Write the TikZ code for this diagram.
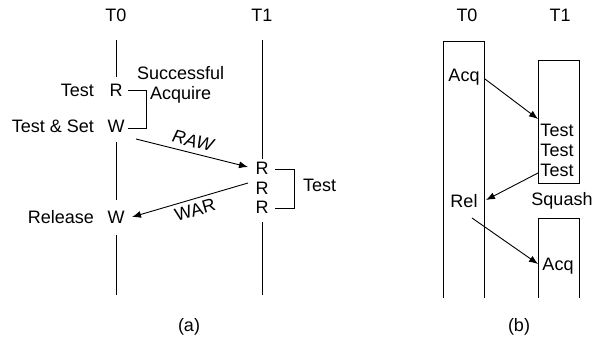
\documentclass[tikz,border=0pt]{standalone}
\usepackage{fontspec}
\setmainfont{Liberation Sans}
\usetikzlibrary{arrows.meta}
\begin{document}
\begin{tikzpicture}[x=1pt,y=-1pt,
  every node/.style={inner sep=0pt,font=\fontsize{18}{21}\selectfont},
  ln/.style={line width=0.9pt},
  arr/.style={line width=0.9pt,-{Latex[length=9pt,width=7pt]}}]
\useasboundingbox (0,0) rectangle (592,341);
% ---------- (a) ----------
\node (t0a) at (116,15) {T0};
\node (t1a) at (262,15) {T1};
\node (R0) at (116,90) {R};
\node (W0) at (116,126) {W};
\node (W1) at (116,217) {W};
\node[anchor=east] (lt) at (94,90) {Test};
\node[anchor=east] (lts) at (94,126) {Test \& Set};
\node[anchor=east] (lrel) at (94,217) {Release};
\node[anchor=west] (succ) at (137,73) {Successful};
\node[anchor=west] (acq) at (150,95) {Acquire};
\node (r1) at (262,168) {R};
\node (r2) at (262,188) {R};
\node (r3) at (262,207) {R};
\node[anchor=west] (ltest) at (303,185) {Test};
\coordinate (a0top) at (116,40);
\coordinate (a0e1) at (116,77);
\coordinate (a0s2) at (116,142);
\coordinate (a0e2) at (116,200);
\coordinate (a0s3) at (116,235);
\coordinate (a0bot) at (116,295);
\coordinate (a1top) at (262,40);
\coordinate (a1e1) at (262,159);
\coordinate (a1s2) at (262,222);
\coordinate (a1bot) at (262,295);
\draw[ln] (a0top) -- (a0e1);
\draw[ln] (a0s2) -- (a0e2);
\draw[ln] (a0s3) -- (a0bot);
\draw[ln] (a1top) -- (a1e1);
\draw[ln] (a1s2) -- (a1bot);
% brackets
\coordinate (b1a) at (128,90);
\coordinate (b1b) at (128,128);
\draw[ln] (b1a) -- (146,90) -- (146,128) -- (b1b);
\coordinate (b2a) at (275,169);
\coordinate (b2b) at (275,208);
\draw[ln] (b2a) -- (294,169) -- (294,208) -- (b2b);
% arrows
\coordinate (rawS) at (136,139);
\coordinate (rawE) at (248,167);
\draw[arr] (rawS) -- (rawE);
\node[rotate=-14] (raw) at (193,141) {\itshape RAW};
\coordinate (warS) at (248,183);
\coordinate (warE) at (132,217);
\draw[arr] (warS) -- (warE);
\node[rotate=16] (war) at (195,210) {WAR};
\node (capa) at (189,327) {(a)};
% ---------- (b) ----------
\node (t0b) at (467,15) {T0};
\node (t1b) at (560,15) {T1};
\draw[ln] (443,298) -- (443,41) -- (484,41) -- (484,298);
\draw[ln] (538,60) rectangle (579,183);
\draw[ln] (538,298) -- (538,218) -- (579,218) -- (579,298);
\node (acq0) at (464,77) {Acq};
\node (rel0) at (464,201) {Rel};
\node (tt1) at (557,130) {Test};
\node (tt2) at (557,150) {Test};
\node (tt3) at (557,170) {Test};
\node (sq) at (562,201) {Squash};
\node (acq1) at (558,266) {Acq};
\coordinate (bA1) at (485,79);
\coordinate (bA2) at (538,119);
\draw[arr] (bA1) -- (bA2);
\coordinate (bB1) at (538,173);
\coordinate (bB2) at (486,200);
\draw[arr] (bB1) -- (bB2);
\coordinate (bC1) at (472,218);
\coordinate (bC2) at (538,264);
\draw[arr] (bC1) -- (bC2);
\node (capb) at (519,327) {(b)};
\end{tikzpicture}
\end{document}
